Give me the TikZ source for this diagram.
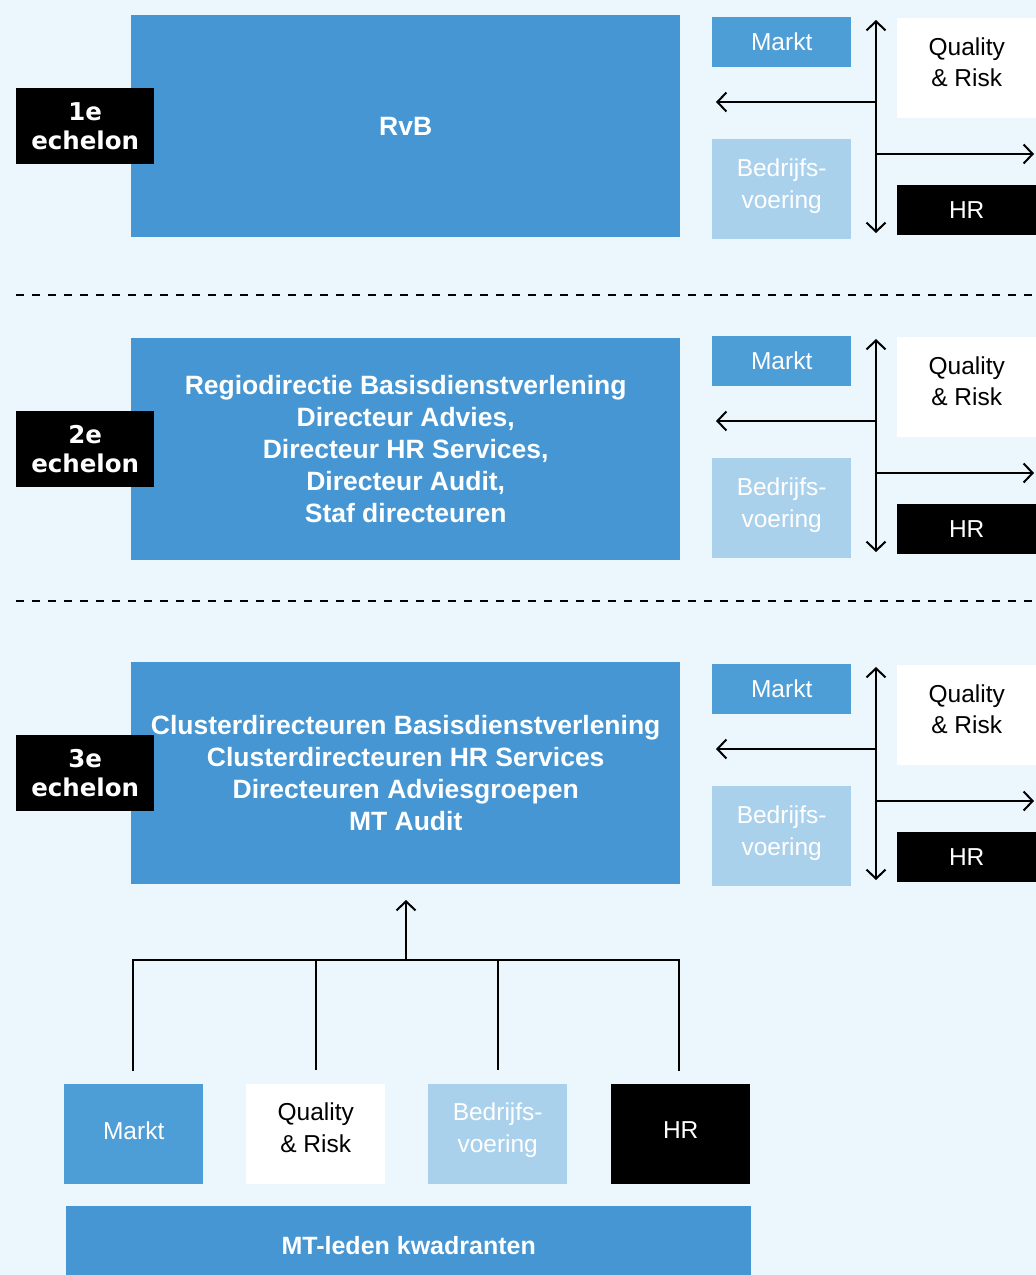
\documentclass[tikz,border=0pt]{standalone}
\usepackage{fontspec}
\setmainfont{Liberation Sans}
\newfontfamily\labfont{DejaVu Sans}
\usetikzlibrary{arrows.meta}
\definecolor{bg}{RGB}{236,246,253}
\definecolor{mainblue}{RGB}{69,150,211}
\definecolor{marktblue}{RGB}{77,157,215}
\definecolor{lightblue}{RGB}{170,209,236}
\tikzset{
  box/.style={draw=none,inner sep=0pt,align=center,anchor=north west},
  mainbox/.style={box,fill=mainblue,text=white,minimum width=549pt,minimum height=222pt,
    font=\fontsize{26.5}{32}\selectfont\bfseries},
  small/.style={box,minimum width=139pt,font=\fontsize{24.5}{31.5}\selectfont},
  marktbox/.style={small,fill=marktblue,text=white,minimum height=50pt,text depth=2pt},
  qrbox/.style={small,fill=white,text=black,minimum height=100pt,text depth=12pt},
  bvbox/.style={small,fill=lightblue,text=white,minimum height=100pt,text depth=11pt},
  hrbox/.style={small,fill=black,text=white,minimum height=50pt},
  echbox/.style={box,fill=black,text=white,minimum width=138pt,minimum height=76pt,
    font=\labfont\fontsize{24.5}{29}\selectfont\bfseries},
  tip/.tip={Straight Barb[length=9pt,width=19pt,line width=2pt]},
  arr/.style={line width=2pt,-tip},
  darr/.style={line width=2pt,tip-tip},
  conn/.style={line width=2pt},
  sep/.style={line width=2pt,dash pattern=on 8pt off 8pt}
}
\newcommand\sidecluster[2]{%
  \node[marktbox] (markt#1) at (712,#2) {Markt};
  \node[qrbox] (qr#1) at (897,#2+1) {Quality\\\& Risk};
  \node[bvbox] (bv#1) at (712,#2+122) {Bedrijfs-\\voering};
  \node[hrbox] (hr#1) at (897,#2+168) {HR};
  \coordinate (vt#1) at (876,#2+3);
  \coordinate (vb#1) at (876,#2+216);
  \coordinate (lo#1) at (876,#2+85);
  \coordinate (le#1) at (716,#2+85);
  \coordinate (ro#1) at (876,#2+137);
  \coordinate (re#1) at (1034,#2+137);
  \draw[darr] (vt#1) -- (vb#1);
  \draw[arr] (lo#1) -- (le#1);
  \draw[arr] (ro#1) -- (re#1);
}
\begin{document}
\begin{tikzpicture}[x=1pt,y=-1pt]
\useasboundingbox (0,0) rectangle (1036,1275);
\fill[bg] (0,0) rectangle (1036,1275);

% Echelon 1
\node[mainbox,text depth=0pt] (main1) at (131,15) {RvB};
\node[echbox] (ech1) at (16,88) {1e\\echelon};
\sidecluster{1}{17}

\coordinate (d1a) at (16,295);
\coordinate (d1b) at (1036,295);
\draw[sep] (d1a) -- (d1b);

% Echelon 2
\node[mainbox] (main2) at (131,338) {Regiodirectie Basisdienstverlening\\Directeur Advies,\\Directeur HR Services,\\Directeur Audit,\\Staf directeuren};
\node[echbox] (ech2) at (16,411) {2e\\echelon};
\sidecluster{2}{336}

\coordinate (d2a) at (16,601);
\coordinate (d2b) at (1036,601);
\draw[sep] (d2a) -- (d2b);

% Echelon 3
\node[mainbox] (main3) at (131,662) {Clusterdirecteuren Basisdienstverlening\\Clusterdirecteuren HR Services\\Directeuren Adviesgroepen\\MT Audit};
\node[echbox] (ech3) at (16,735) {3e\\echelon};
\sidecluster{3}{664}

% Bottom quadrants
\node[marktbox,minimum height=100pt,text depth=8pt] (bmarkt) at (64,1084) {Markt};
\node[qrbox,text depth=13pt] (bqr) at (246,1084) {Quality\\\& Risk};
\node[bvbox,text depth=13pt] (bbv) at (428,1084) {Bedrijfs-\\voering};
\node[hrbox,minimum height=100pt,text depth=8pt] (bhr) at (611,1084) {HR};
\node[box,fill=mainblue,text=white,minimum width=685pt,minimum height=78pt,
  font=\fontsize{25}{30}\selectfont\bfseries] (mt) at (66,1206) {MT-leden kwadranten};

\coordinate (hub) at (406,960);
\coordinate (hubtip) at (406,900);
\coordinate (t1) at (133,960);
\coordinate (t4) at (679,960);
\coordinate (b1) at (133,1070);
\coordinate (t2) at (316,960);
\coordinate (b2) at (316,1070);
\coordinate (t3) at (498,960);
\coordinate (b3) at (498,1070);
\coordinate (b4) at (679,1070);
\draw[arr] (hub) -- (hubtip);
\draw[conn,line cap=rect] (b1) -- (t1) -- (t4) -- (b4);
\draw[conn] (t2) -- (b2);
\draw[conn] (t3) -- (b3);
\end{tikzpicture}
\end{document}
